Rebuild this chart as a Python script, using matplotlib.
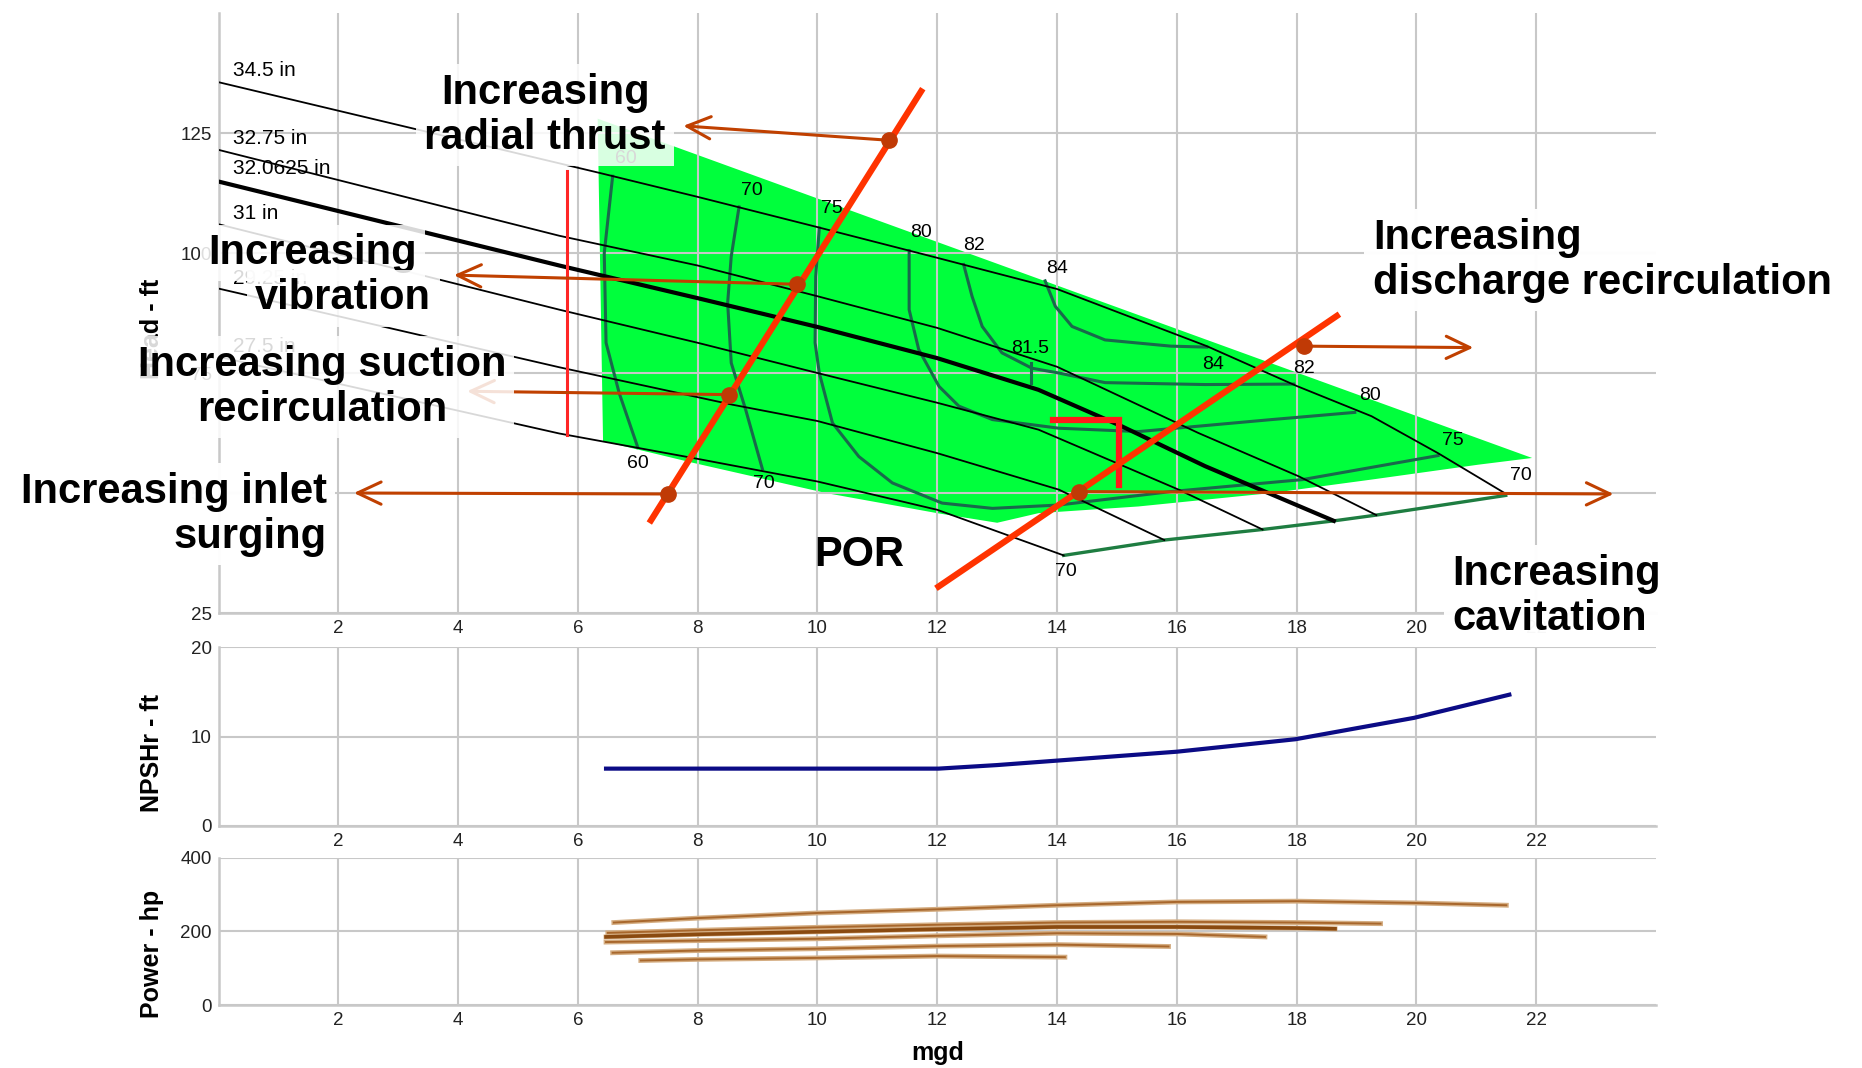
import matplotlib.pyplot as plt
from matplotlib.patches import Polygon

plt.rcParams['font.family'] = ['Liberation Sans', 'DejaVu Sans']

# impeller curves, head (ft) against flow (mgd)
dia_labels = ['34.5 in', '32.75 in', '32.0625 in', '31 in', '29.25 in', '27.5 in']
dia_label_h = [138.1, 123.8, 117.6, 108.2, 94.6, 80.5]
q_345 = [0, 6.36, 8, 10, 12, 14, 16.5, 18, 19.25, 20.36, 21.47]
h_345 = [135.6, 116.7, 111.7, 105.4, 99.0, 92.5, 80.6, 72.3, 66.0, 58.3, 50.0]
q_3275 = [0, 5.69, 8, 10, 12, 14, 16.36, 18.03, 19.33]
h_3275 = [121.5, 103.6, 97.4, 91.0, 84.4, 76.3, 62.5, 53.5, 45.4]
q_32 = [0, 5.69, 8, 10, 12, 13.69, 15.08, 16.47, 18.62]
h_32 = [114.9, 97.4, 90.6, 84.6, 78.1, 71.5, 63.9, 55.6, 44.2]
q_31 = [0, 5.69, 8, 10, 12, 13.69, 16.03, 17.43]
h_31 = [106.0, 88.2, 81.3, 75.0, 68.8, 63.2, 50.7, 42.4]
q_2925 = [0, 5.69, 8.58, 10, 12, 14.03, 15.79]
h_2925 = [92.6, 76.2, 68.4, 65.0, 58.3, 50.7, 40.2]
q_275 = [0, 5.69, 7.92, 10, 12, 14.11]
h_275 = [78.4, 62.4, 57.3, 52.4, 46.5, 37.0]

# efficiency contours (%)
eff60_q = [6.58, 6.44, 6.47, 6.69, 7.0]
eff60_h = [116.0, 100.0, 81.3, 70.8, 59.5]
eff70_q = [8.69, 8.56, 8.5, 8.56, 8.8, 9.08]
eff70_h = [109.6, 99.3, 89.6, 77.1, 67.4, 55.0]
eff75_q = [10.03, 9.97, 9.96, 10.03, 10.25, 10.69, 11.25, 12.08, 12.92, 14.03, 15.9, 18.1, 20.36]
eff75_h = [105.2, 95.1, 81.3, 75.0, 64.6, 57.6, 52.1, 47.9, 46.8, 47.5, 50.3, 52.8, 57.8]
eff80_q = [11.53, 11.53, 11.69, 12.03, 12.36, 12.92, 14.03, 15.36, 17.58, 18.97]
eff80_h = [100.5, 88.2, 79.9, 72.2, 68.1, 65.3, 63.5, 62.8, 65.3, 66.8]
eff82_q = [12.44, 12.58, 12.75, 13.08, 13.58, 14.03, 14.8, 16.47, 17.95]
eff82_h = [97.6, 91.0, 84.7, 79.2, 76.0, 75.0, 73.0, 72.6, 72.7]
eff84_q = [13.8, 13.97, 14.25, 14.8, 15.9, 16.5]
eff84_h = [94.2, 88.9, 84.7, 81.9, 80.6, 80.4]
eff70r_q = [14.11, 15.79, 17.43, 18.62, 19.33, 21.49]
eff70r_h = [37.0, 40.2, 42.4, 44.2, 45.4, 49.5]
eff_lbl = ['60', '70', '75', '80', '82', '84', '81.5', '84', '82', '80', '75', '70', '60', '70', '70']
eff_lbl_q = [6.8, 8.9, 10.24, 11.73, 12.62, 14.0, 13.55, 16.6, 18.13, 19.23, 20.6, 21.75, 7.0, 9.1, 14.15]
eff_lbl_h = [119.8, 113.1, 109.2, 104.2, 101.5, 96.8, 80.2, 76.7, 76.0, 70.3, 60.9, 53.7, 56.2, 52.0, 33.7]
bep_tick_q = [13.56, 13.56]
bep_tick_h = [72.9, 77.1]

# allowable operating region (green)
aor_q = [6.33, 21.93, 21.03, 19.25, 17.58, 15.36, 13.69, 13.0, 12.0, 10.14, 7.92, 6.42]
aor_h = [128.0, 57.3, 55.9, 52.8, 50.0, 47.2, 45.8, 43.8, 45.8, 50.0, 56.3, 60.8]

# red marks
mcsf_q = [5.81, 5.81]
mcsf_h = [62.0, 117.0]
por_q = [13.94, 15.03, 15.03]
por_h = [65.3, 65.3, 51.7]
red1_q = [7.22, 11.73]
red1_h = [44.3, 133.7]
red2_q = [12.02, 18.67]
red2_h = [30.5, 86.9]
dot_q = [11.19, 9.65, 8.53, 7.5, 14.37, 18.13]
dot_h = [123.5, 93.5, 70.5, 49.8, 50.3, 80.6]
tip_q = [7.76, 3.93, 4.15, 2.26, 23.29, 20.95]
tip_h = [126.5, 95.4, 71.2, 50.0, 49.8, 80.3]

# NPSHr
npsh_q = [6.47, 8, 10, 12.02, 13.0, 14.0, 16.0, 17.98, 19.96, 21.55]
npsh_h = [6.4, 6.4, 6.4, 6.4, 6.8, 7.3, 8.3, 9.7, 12.1, 14.7]

# power
p345_q = [6.6, 8, 10, 12, 14, 16, 18, 20, 21.5]
p345 = [224, 236, 250, 260, 271, 280, 282, 277, 271]
p3275_q = [6.5, 8, 10, 12, 14, 16, 18, 19.4]
p3275 = [196, 203, 211, 218, 224, 226, 224, 221]
p32_q = [6.47, 8, 10, 12, 14, 16, 18, 18.64]
p32 = [185, 192, 199, 206, 212, 212, 209, 207]
p31_q = [6.47, 8, 10, 12, 14, 16, 17.47]
p31 = [171, 175, 180, 188, 195, 193, 185]
p2925_q = [6.58, 8, 10, 12, 14, 15.86]
p2925 = [142, 148, 153, 160, 164, 159]
p275_q = [7.05, 8, 10, 12, 14.13]
p275 = [121, 124, 128, 133, 130]

xticks = [2, 4, 6, 8, 10, 12, 14, 16, 18, 20, 22]
grid_c = '#c8c8c8'
eff_c = '#19694b'


def fx(x):
    return x / 1568


def fy(y):
    return 1 - y / 899


fig = plt.figure(figsize=(18.62, 10.68), dpi=100)
ax1 = fig.add_axes([fx(184), fy(516), 1210.6 / 1568, 505 / 899])
ax2 = fig.add_axes([fx(184), fy(695), 1210.6 / 1568, 150 / 899])
ax3 = fig.add_axes([fx(184), fy(846), 1210.6 / 1568, 124 / 899])

for ax in (ax1, ax2, ax3):
    ax.set_xlim(0, 24)
    ax.set_xticks(xticks)
    ax.set_axisbelow(True)
    ax.grid(True, color=grid_c, lw=1.5)
    for s in ('top', 'right'):
        ax.spines[s].set_visible(False)
    for s in ('left', 'bottom'):
        ax.spines[s].set_color(grid_c)
        ax.spines[s].set_linewidth(1.8)
    ax.tick_params(length=0, labelsize=13.5, pad=5, labelcolor='#222222')

ax1.set_ylim(25, 150)
ax1.set_yticks([25, 50, 75, 100, 125])
ax2.set_ylim(0, 20)
ax2.set_yticks([0, 10, 20])
ax3.set_ylim(0, 400)
ax3.set_yticks([0, 200, 400])

# head chart
ax1.add_patch(Polygon(list(zip(aor_q, aor_h)), closed=True, facecolor='#00ff3c',
                      edgecolor='none', zorder=0.3))
curves = [(q_345, h_345), (q_3275, h_3275), (q_32, h_32), (q_31, h_31),
          (q_2925, h_2925), (q_275, h_275)]
for i, (q, h) in enumerate(curves):
    ax1.plot(q, h, color='black', lw=3.0 if i == 2 else 1.3, zorder=3)
    ax1.text(0.24, dia_label_h[i], dia_labels[i], fontsize=15, ha='left', va='center', zorder=3)

for q, h in [(eff60_q, eff60_h), (eff70_q, eff70_h), (eff75_q, eff75_h), (eff80_q, eff80_h),
             (eff82_q, eff82_h), (eff84_q, eff84_h), (bep_tick_q, bep_tick_h)]:
    ax1.plot(q, h, color=eff_c, lw=2.2, zorder=2.5)
ax1.plot(eff70r_q, eff70r_h, color='#1e7d41', lw=2.4, zorder=2.5)
for t, q, h in zip(eff_lbl, eff_lbl_q, eff_lbl_h):
    ax1.text(q, h, t, fontsize=14, ha='center', va='center', zorder=3)

ax1.plot(mcsf_q, mcsf_h, color='#ff2626', lw=2.2, zorder=4)
ax1.plot(por_q, por_h, color='#ff1a1a', lw=4.5, solid_joinstyle='miter', zorder=4)
ax1.plot(red1_q, red1_h, color='#ff3300', lw=4.5, zorder=5)
ax1.plot(red2_q, red2_h, color='#ff3300', lw=4.5, zorder=5)

for dq, dh, tq, th in zip(dot_q, dot_h, tip_q, tip_h):
    ax1.annotate('', xy=(tq, th), xytext=(dq, dh), zorder=6,
                 arrowprops=dict(arrowstyle='->,head_length=1.7,head_width=0.8',
                                 color='#c04000', lw=2.2, shrinkA=0, shrinkB=0))
ax1.plot(dot_q, dot_h, 'o', color='#c03a06', ms=11, zorder=7)

# NPSHr chart
ax2.plot(npsh_q, npsh_h, color='#0b0b85', lw=3, zorder=3)

# power chart
for i, (q, p) in enumerate([(p345_q, p345), (p3275_q, p3275), (p32_q, p32),
                            (p31_q, p31), (p2925_q, p2925), (p275_q, p275)]):
    ax3.plot(q, p, color='#d4ad82', lw=3.5, zorder=3)
    ax3.plot(q, p, color='#8a4a10' if i == 2 else '#a8672c', lw=2.6 if i == 2 else 1.4, zorder=3)

# axis labels
lab = dict(fontsize=18, fontweight='bold', ha='center', va='center')
fig.text(fx(128), fy(277), 'Head - ft', rotation=90, **lab)
fig.text(fx(128), fy(634), 'NPSHr - ft', rotation=90, **lab)
fig.text(fx(128), fy(803), 'Power - hp', rotation=90, **lab)
fig.text(fx(790), fy(886), 'mgd', **lab)

# annotations
box = dict(facecolor='white', edgecolor='none', alpha=0.85, pad=6)
solid = dict(facecolor='white', edgecolor='none', alpha=0.97, pad=6)
ann = dict(fontsize=30, fontweight='bold', va='center', linespacing=1.17, zorder=10)
fig.text(fx(459), fy(97), 'Increasing\nradial thrust', ha='center', multialignment='center', bbox=box, **ann)
fig.text(fx(263), fy(213), 'Increasing', ha='center', bbox=box, **ann)
fig.text(fx(289), fy(251), 'vibration', ha='center', bbox=box, **ann)
fig.text(fx(271), fy(326), 'Increasing suction\nrecirculation', ha='center', multialignment='center', bbox=box, **ann)
fig.text(fx(275), fy(433), 'Increasing inlet\nsurging', ha='right', multialignment='right', bbox=solid, **ann)
fig.text(fx(1156), fy(219), 'Increasing\ndischarge recirculation', ha='left', multialignment='left', bbox=solid, **ann)
fig.text(fx(1223), fy(502), 'Increasing\ncavitation', ha='left', multialignment='left', bbox=solid, **ann)
fig.text(fx(686), fy(467), 'POR', ha='left', fontsize=30, fontweight='bold', va='center', zorder=10)

fig.savefig('out.png', dpi=100, facecolor='white')
